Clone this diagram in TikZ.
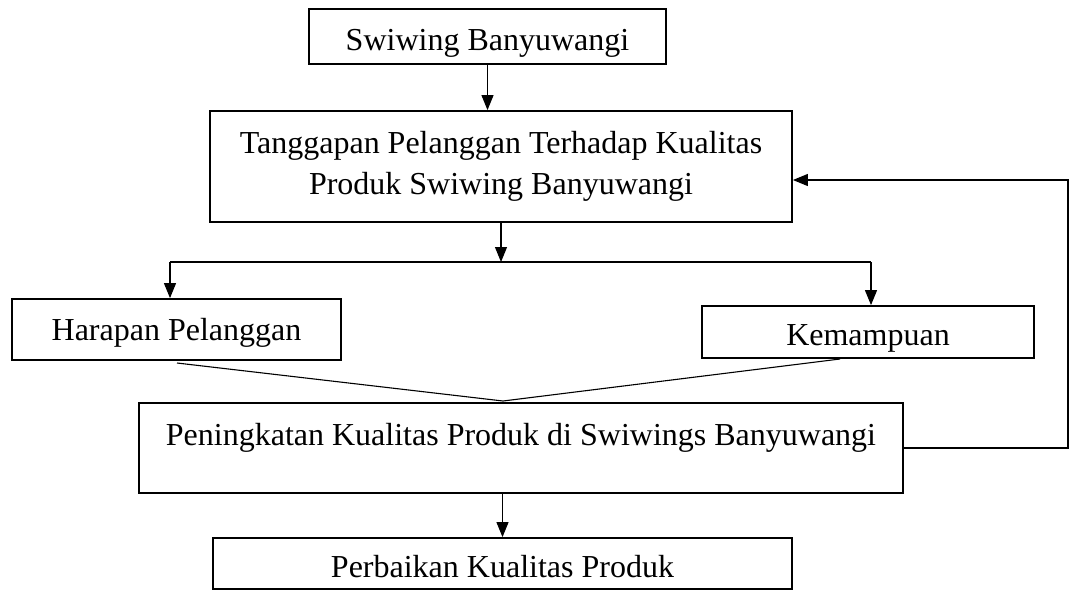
\documentclass[tikz,border=0pt]{standalone}
\usepackage{fontspec}
\setmainfont{Liberation Serif}
\usetikzlibrary{arrows.meta, positioning, calc}

\begin{document}
\begin{tikzpicture}[
x=1pt, y=-1pt,
every node/.style={font=\fontsize{32}{41}\selectfont},
box/.style={draw, rectangle, line width=1.8pt, inner sep=0pt, align=center},
low/.style={text height=30pt, text depth=3pt},
link/.style={line width=1.1pt},
arr/.style={link, -{Triangle[length=15pt, width=12pt]}}
]

\useasboundingbox (0,0) rectangle (1070,592);

\node[box, low, minimum width=357pt, minimum height=55pt] (swiwing) at (487.5,36.5) {Swiwing Banyuwangi};

\node[box, minimum width=582pt, minimum height=111pt] (tanggapan) at (501,166.5)
{Tanggapan Pelanggan Terhadap Kualitas \\ Produk Swiwing Banyuwangi};

\node[box, text height=26pt, text depth=5pt, minimum width=329pt, minimum height=61pt] (harapan) at (176.5,329.5) {Harapan Pelanggan};

\node[box, text height=29pt, text depth=3pt, minimum width=332pt, minimum height=52pt] (kemampuan) at (868,332) {Kemampuan};

\node[box, text height=10pt, text depth=15pt, minimum width=764pt, minimum height=90pt] (peningkatan) at (521,448)
{Peningkatan Kualitas Produk di Swiwings Banyuwangi};

\node[box, low, minimum width=579pt, minimum height=51pt] (perbaikan) at (502.5,563.5) {Perbaikan Kualitas Produk};

\coordinate (split) at (501,262);
\coordinate (splitL) at (170,262);
\coordinate (splitR) at (871,262);
\coordinate (hout) at (177,363);
\coordinate (kout) at (840,359);
\coordinate (merge) at (503,401);
\coordinate (fb) at (1068,0);

\draw[arr] (swiwing.south) -- (swiwing.south |- tanggapan.north);
\draw[arr] (tanggapan.south) -- (split);
\draw[link] (splitL) -- (splitR);
\draw[arr] (splitL) -- (splitL |- harapan.north);
\draw[arr] (splitR) -- (splitR |- kemampuan.north);
\draw[link] (hout) -- (merge) -- (kout);
\draw[arr] (peningkatan.south -| perbaikan.north) -- (perbaikan.north);
\draw[arr] (peningkatan.east) -| ([yshift=-13.5pt]tanggapan.east -| fb) -- ([yshift=-13.5pt]tanggapan.east);

\end{tikzpicture}
\end{document}
